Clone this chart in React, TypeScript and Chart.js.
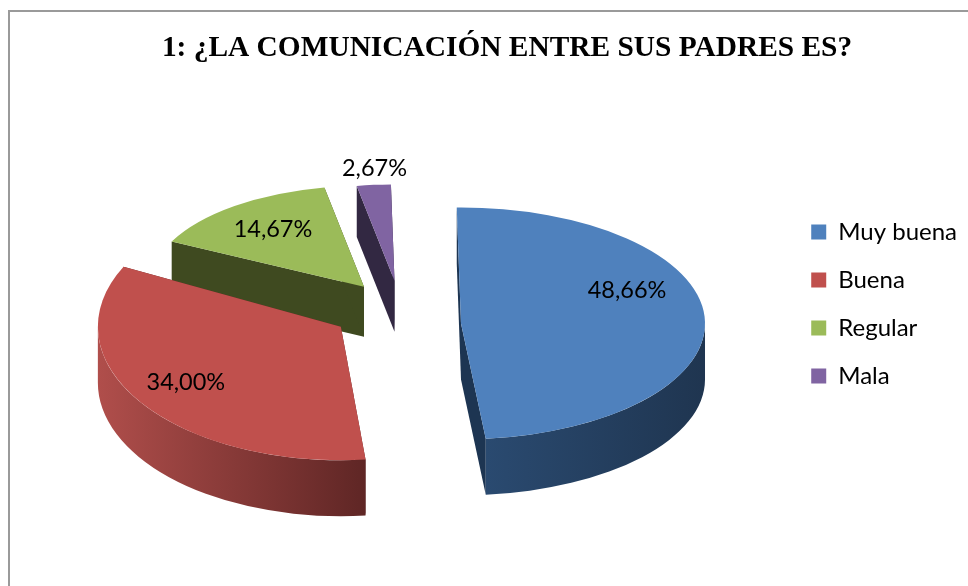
import React, { useEffect, useRef } from "react";
import { Chart, registerables } from "chart.js";

Chart.register(...registerables);

const titleText = "1: ¿LA COMUNICACIÓN ENTRE SUS PADRES ES?";
const categories = ["Muy buena", "Buena", "Regular", "Mala"];
const values = [48.66, 34.0, 14.67, 2.67];

const topColors = ["#4F81BD", "#C0504D", "#9BBB59", "#8064A2"];
const cutColors = ["#1D3552", "#5F2625", "#3F4A20", "#322842"];
const wallRightColors = ["#1F3550", "#5F2625", "#3F4A20", "#322842"];
const wallLeftColors = ["#2A4A70", "#B04E4B", "#3F4A20", "#322842"];

// per-slice look of the tilted pie
const explode = [59, 72, 65, 95];
const radii = [244, 243, 215, 205];
const squash = [0.475, 0.55, 0.47, 0.47];
const depths = [56, 56, 50, 51];
const nudgeX = [-15, -17, -14, -13];
const nudgeY = [-6, -27, -20, -6];
const labelDX = [166, -155, -91, -20];
const labelDY = [-33, 56, -57, -112];

const labelFont = '23.5px Lato, "Open Sans", sans-serif';

const geometry = (el: any, i: number) => {
  const mid = (el.startAngle + el.endAngle) / 2;
  const off = explode[i];
  const k = squash[i];
  const ax = el.x + Math.cos(mid) * off + nudgeX[i];
  const ay = el.y + Math.sin(mid) * off * k + nudgeY[i];
  return { ax, ay, k, R: radii[i], d: depths[i] };
};

const pie3d = {
  id: "pie3d",
  afterDatasetsUpdate(chart: any) {
    chart.getDatasetMeta(0).data.forEach((el: any, i: number) => {
      el.outerRadius = radii[i];
    });
  },
  beforeDatasetDraw(chart: any) {
    const ctx = chart.ctx;
    const arcs = chart.getDatasetMeta(0).data;
    [3, 2, 1, 0].forEach((i) => {
      const el = arcs[i];
      const { ax, ay, k, R, d } = geometry(el, i);
      const px = (a: number) => ax + Math.cos(a) * R;
      const py = (a: number) => ay + Math.sin(a) * R * k;

      // flat cut faces
      ctx.fillStyle = cutColors[i];
      [el.startAngle, el.endAngle].forEach((a: number) => {
        ctx.beginPath();
        ctx.moveTo(ax, ay);
        ctx.lineTo(px(a), py(a));
        ctx.lineTo(px(a), py(a) + d);
        ctx.lineTo(ax, ay + d);
        ctx.closePath();
        ctx.fill();
      });

      // curved outer wall
      const s = Math.max(el.startAngle, 0);
      const e = Math.min(el.endAngle, Math.PI);
      if (e > s) {
        const grad = ctx.createLinearGradient(px(s), 0, px(e), 0);
        grad.addColorStop(0, wallRightColors[i]);
        grad.addColorStop(1, wallLeftColors[i]);
        ctx.fillStyle = grad;
        ctx.beginPath();
        ctx.ellipse(ax, ay, R, R * k, 0, s, e);
        ctx.ellipse(ax, ay + d, R, R * k, 0, e, s, true);
        ctx.closePath();
        ctx.fill();
      }

      // top face, drawn by the library's own arc element
      ctx.save();
      ctx.translate(ax, ay);
      ctx.scale(1, k);
      ctx.translate(-el.x, -el.y);
      el.draw(ctx);
      ctx.restore();
    });
    return false;
  },
  afterDatasetsDraw(chart: any) {
    const ctx = chart.ctx;
    const arcs = chart.getDatasetMeta(0).data;
    ctx.save();
    ctx.font = labelFont;
    ctx.fillStyle = "#000000";
    ctx.textAlign = "center";
    ctx.textBaseline = "middle";
    arcs.forEach((el: any, i: number) => {
      const { ax, ay } = geometry(el, i);
      ctx.fillText(values[i].toFixed(2).replace(".", ",") + "%", ax + labelDX[i], ay + labelDY[i]);
    });
    ctx.restore();
  },
};

export default function App() {
  const ref = useRef<HTMLCanvasElement>(null);
  useEffect(() => {
    const chart = new Chart(ref.current as HTMLCanvasElement, {
      type: "pie",
      data: {
        labels: categories,
        datasets: [
          {
            data: values,
            backgroundColor: topColors,
            borderWidth: 0,
            clip: false,
          } as any,
        ],
      },
      options: {
        responsive: false,
        animation: false,
        rotation: -1,
        radius: 245,
        layout: { padding: { left: 47, right: 1, top: 0, bottom: -22 } },
        plugins: {
          title: {
            display: true,
            text: titleText,
            color: "#000000",
            font: { family: '"Liberation Serif", serif', size: 29.4, weight: "bold" },
            padding: { top: 31, bottom: 10 },
          },
          legend: {
            position: "right",
            labels: {
              boxWidth: 15,
              boxHeight: 15,
              padding: 24,
              color: "#000000",
              font: { family: 'Lato, "Open Sans", sans-serif', size: 24 },
            },
          },
          tooltip: { enabled: false },
        },
      } as any,
      plugins: [pie3d as any],
    });
    return () => chart.destroy();
  }, []);
  return (
    <div style={{ position: "fixed", left: 0, top: 0, width: 968, height: 586, overflow: "hidden", background: "#ffffff" }}>
      <div
        style={{
          position: "absolute",
          left: 8,
          top: 10,
          width: 1000,
          height: 600,
          borderLeft: "2px solid #9a9a9a",
          borderTop: "2px solid #9a9a9a",
        }}
      />
      <canvas ref={ref} width={968} height={586} style={{ position: "absolute", left: 0, top: 0 }} />
    </div>
  );
}
